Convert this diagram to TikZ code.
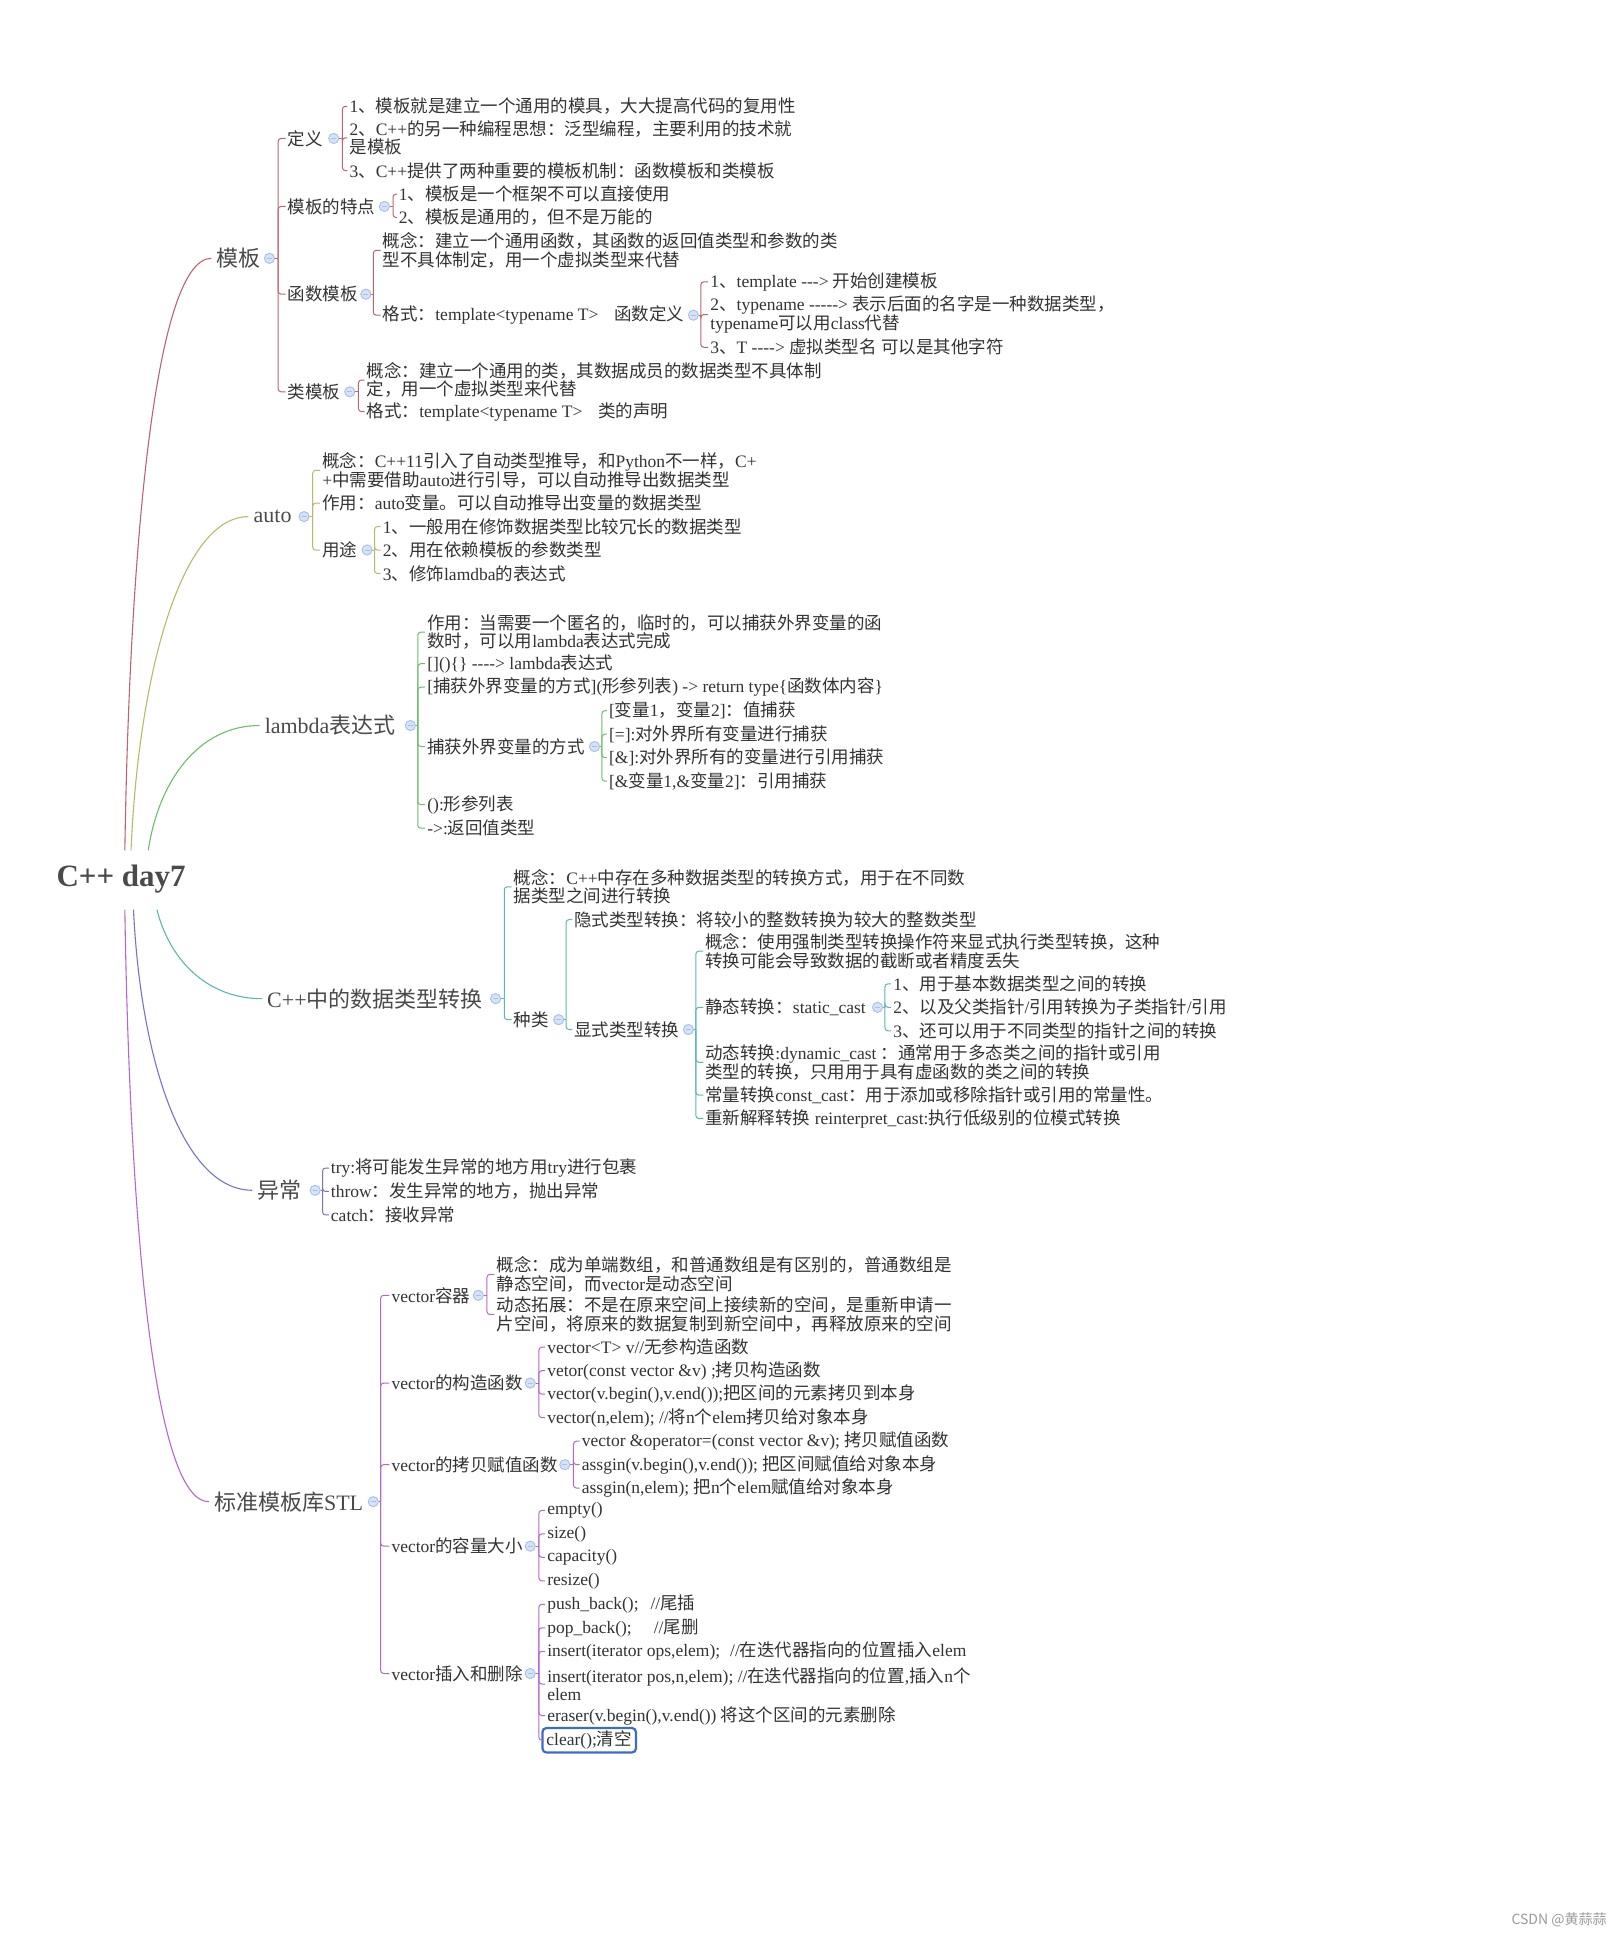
\documentclass[tikz,border=0pt]{standalone}
\usepackage{fontspec}
\setmainfont{Liberation Serif}[Ligatures=TeXOff]
\newfontfamily\cjkfont{Noto Sans CJK SC}
\usepackage{xcolor}
\usepackage{tikz}
\usetikzlibrary{positioning}

\definecolor{mmink}{HTML}{333333}
\definecolor{mmgray}{HTML}{4A4A4A}
\definecolor{mmmark}{HTML}{9A9A9A}
\definecolor{ctpl}{HTML}{BC6570}
\definecolor{cauto}{HTML}{BDB76B}
\definecolor{clam}{HTML}{6DBD6D}
\definecolor{ccast}{HTML}{5BB7B0}
\definecolor{cexc}{HTML}{7474CC}
\definecolor{cstl}{HTML}{B468C8}
\definecolor{mmdotfill}{HTML}{D5E3F7}
\definecolor{mmdotline}{HTML}{A8C1EA}
\definecolor{cblue}{HTML}{3C6CC8}

% CJK characters switch to the CJK family automatically
\XeTeXinterchartokenstate=1
\newXeTeXintercharclass\cjkcls
\count255="3000
\loop\ifnum\count255<"A000 \XeTeXcharclass\count255=\cjkcls \advance\count255 by 1 \repeat
\count255="FF00
\loop\ifnum\count255<"FFF0 \XeTeXcharclass\count255=\cjkcls \advance\count255 by 1 \repeat
\XeTeXinterchartoks 0 \cjkcls = {\cjkfont}
\XeTeXinterchartoks 4095 \cjkcls = {\cjkfont}
\XeTeXinterchartoks \cjkcls 0 = {\rmfamily}
\XeTeXinterchartoks \cjkcls 4095 = {\rmfamily}

\tikzset{
  mmroot/.style  ={inner sep=0pt, font=\fontsize{31}{33}\selectfont\bfseries, text=mmgray},
  mmmain/.style  ={anchor=west, inner xsep=5pt, inner ysep=0pt,
                   font=\fontsize{22}{24}\selectfont, text=mmgray},
  mmtext/.style  ={anchor=west, inner xsep=2pt, inner ysep=0pt, align=left,
                   font=\fontsize{17.5}{18.5}\selectfont, text=mmink},
  mmhandle/.style={circle, minimum size=10pt, inner sep=0pt, fill=mmdotfill,
                   draw=mmdotline, line width=0.8pt,
                   path picture={\draw[mmdotline, line width=1pt]
                     ([xshift=2.5pt]path picture bounding box.west) --
                     ([xshift=-2.5pt]path picture bounding box.east);}},
  mmlink/.style  ={line width=1pt, rounded corners=3pt},
  mmcurve/.style ={line width=1.1pt},
  mmbox/.style   ={draw=cblue, line width=2.2pt, rounded corners=4pt,
                   inner xsep=4pt, inner ysep=3pt},
}

\begin{document}
\begin{tikzpicture}[x=1.2362pt, y=-1.2362pt]
  \useasboundingbox (0,0) rectangle (1308,1568);
  \fill[white] (0,0) rectangle (1308,1568);

  % root and main branches
  \node[mmroot] (root) at (98,711) {C++ day7};
  \coordinate (rt-a) at (101,688);
  \coordinate (rt-b) at (106,688);
  \coordinate (rt-c) at (120,688);
  \coordinate (rb-a) at (101,736);
  \coordinate (rb-b) at (108,736);
  \coordinate (rb-c) at (127,736);

  \node[mmmain] (tpl)  at (171,209)  {模板};
  \node[mmmain] (auto) at (201,418)  {auto};
  \node[mmmain] (lam)  at (210,587)  {lambda表达式};
  \node[mmmain] (cast) at (212,808)  {C++中的数据类型转换};
  \node[mmmain] (exc)  at (204,963)  {异常};
  \node[mmmain] (stl)  at (169,1215) {标准模板库STL};

  \draw[mmcurve,ctpl]  (rt-a) .. controls +(4,-250) and +(-45,0) .. (tpl.west);
  \draw[mmcurve,cauto] (rt-b) .. controls +(6,-140) and +(-55,0) .. (auto.west);
  \draw[mmcurve,clam]  (rt-c) .. controls +(8,-55) and +(-50,0) .. (lam.west);
  \draw[mmcurve,ccast] (rb-c) .. controls +(10,40) and +(-45,0) .. (cast.west);
  \draw[mmcurve,cexc]  (rb-b) .. controls +(6,125) and +(-55,0) .. (exc.west);
  \draw[mmcurve,cstl]  (rb-a) .. controls +(4,250) and +(-45,0) .. (stl.west);

  % ---- 模板
  \node[mmhandle] (tpl-h) at (218,209) {};
  \coordinate (tpl-j) at (225,209);
  \node[mmtext] (def)  at (231,112) {定义};
  \node[mmtext] (feat) at (231,167) {模板的特点};
  \node[mmtext] (fun)  at (231,238) {函数模板};
  \node[mmtext] (cls)  at (231,317) {类模板};
  \draw[mmlink,ctpl] (tpl-h) -- (tpl-j);
  \foreach \c in {def,feat,fun,cls} \draw[mmlink,ctpl] (tpl-j) |- (\c.west);

  \node[mmhandle] (def-h) at (270,112) {};
  \coordinate (def-j) at (277,112);
  \node[mmtext] (def1) at (281,86)    {1、模板就是建立一个通用的模具，大大提高代码的复用性};
  \node[mmtext] (def2) at (281,111.5) {2、C++的另一种编程思想：泛型编程，主要利用的技术就\\是模板};
  \node[mmtext] (def3) at (281,138)   {3、C++提供了两种重要的模板机制：函数模板和类模板};
  \draw[mmlink,ctpl] (def-h) -- (def-j);
  \foreach \c in {def1,def2,def3} \draw[mmlink,ctpl] (def-j) |- (\c.west);

  \node[mmhandle] (feat-h) at (311,167) {};
  \coordinate (feat-j) at (318,167);
  \node[mmtext] (feat1) at (321,157) {1、模板是一个框架不可以直接使用};
  \node[mmtext] (feat2) at (321,176) {2、模板是通用的，但不是万能的};
  \draw[mmlink,ctpl] (feat-h) -- (feat-j);
  \foreach \c in {feat1,feat2} \draw[mmlink,ctpl] (feat-j) |- (\c.west);

  \node[mmhandle] (fun-h) at (296,238) {};
  \coordinate (fun-j) at (302,238);
  \node[mmtext] (fun1) at (308,202.5) {概念：建立一个通用函数，其函数的返回值类型和参数的类\\型不具体制定，用一个虚拟类型来代替};
  \node[mmtext] (fun2) at (308,255)   {格式：template<typename T>\hspace{16pt}函数定义};
  \draw[mmlink,ctpl] (fun-h) -- (fun-j);
  \foreach \c in {fun1,fun2} \draw[mmlink,ctpl] (fun-j) |- (\c.west);

  \node[mmhandle] (fun2-h) at (561,255) {};
  \coordinate (fun2-j) at (567,255);
  \node[mmtext] (fd1) at (573,228)   {1、template ---> 开始创建模板};
  \node[mmtext] (fd2) at (573,254.5) {2、typename -----> 表示后面的名字是一种数据类型，\\typename可以用class代替};
  \node[mmtext] (fd3) at (573,281)   {3、T ----> 虚拟类型名 可以是其他字符};
  \draw[mmlink,ctpl] (fun2-h) -- (fun2-j);
  \foreach \c in {fd1,fd2,fd3} \draw[mmlink,ctpl] (fun2-j) |- (\c.west);

  \node[mmhandle] (cls-h) at (283,317) {};
  \coordinate (cls-j) at (290,317);
  \node[mmtext] (cls1) at (295,307.5) {概念：建立一个通用的类，其数据成员的数据类型不具体制\\定，用一个虚拟类型来代替};
  \node[mmtext] (cls2) at (295,333)   {格式：template<typename T>\hspace{16pt}类的声明};
  \draw[mmlink,ctpl] (cls-h) -- (cls-j);
  \foreach \c in {cls1,cls2} \draw[mmlink,ctpl] (cls-j) |- (\c.west);

  % ---- auto
  \node[mmhandle] (auto-h) at (246,418) {};
  \coordinate (auto-j) at (253,418);
  \node[mmtext] (au1) at (259,380.5) {概念：C++11引入了自动类型推导，和Python不一样，C+\\+中需要借助auto进行引导，可以自动推导出数据类型};
  \node[mmtext] (au2) at (259,407)   {作用：auto变量。可以自动推导出变量的数据类型};
  \node[mmtext] (au3) at (259,445)   {用途};
  \draw[mmlink,cauto] (auto-h) -- (auto-j);
  \foreach \c in {au1,au2,au3} \draw[mmlink,cauto] (auto-j) |- (\c.west);

  \node[mmhandle] (au3-h) at (297,445) {};
  \coordinate (au3-j) at (303,445);
  \node[mmtext] (use1) at (308,426) {1、一般用在修饰数据类型比较冗长的数据类型};
  \node[mmtext] (use2) at (308,445) {2、用在依赖模板的参数类型};
  \node[mmtext] (use3) at (308,464) {3、修饰lamdba的表达式};
  \draw[mmlink,cauto] (au3-h) -- (au3-j);
  \foreach \c in {use1,use2,use3} \draw[mmlink,cauto] (au3-j) |- (\c.west);

  % ---- lambda
  \node[mmhandle] (lam-h) at (332,587) {};
  \coordinate (lam-j) at (338,587);
  \node[mmtext] (lam1) at (344,511.5) {作用：当需要一个匿名的，临时的，可以捕获外界变量的函\\数时，可以用lambda表达式完成};
  \node[mmtext] (lam2) at (344,537)   {[]()\{\} ----> lambda表达式};
  \node[mmtext] (lam3) at (344,556)   {[捕获外界变量的方式](形参列表) -> return type\{函数体内容\}};
  \node[mmtext] (lam4) at (344,604)   {捕获外界变量的方式};
  \node[mmtext] (lam5) at (344,651)   {():形参列表};
  \node[mmtext] (lam6) at (344,670)   {->:返回值类型};
  \draw[mmlink,clam] (lam-h) -- (lam-j);
  \foreach \c in {lam1,lam2,lam3,lam4,lam5,lam6} \draw[mmlink,clam] (lam-j) |- (\c.west);

  \node[mmhandle] (lam4-h) at (481,604) {};
  \coordinate (lam4-j) at (487,604);
  \node[mmtext] (grab1) at (491,575) {[变量1，变量2]：值捕获};
  \node[mmtext] (grab2) at (491,594) {[=]:对外界所有变量进行捕获};
  \node[mmtext] (grab3) at (491,613) {[\&]:对外界所有的变量进行引用捕获};
  \node[mmtext] (grab4) at (491,632) {[\&变量1,\&变量2]：引用捕获};
  \draw[mmlink,clam] (lam4-h) -- (lam4-j);
  \foreach \c in {grab1,grab2,grab3,grab4} \draw[mmlink,clam] (lam4-j) |- (\c.west);

  % ---- 类型转换
  \node[mmhandle] (cast-h) at (401,808) {};
  \coordinate (cast-j) at (408,808);
  \node[mmtext] (cst1) at (414,717.5) {概念：C++中存在多种数据类型的转换方式，用于在不同数\\据类型之间进行转换};
  \node[mmtext] (cst2) at (414,825)   {种类};
  \draw[mmlink,ccast] (cast-h) -- (cast-j);
  \foreach \c in {cst1,cst2} \draw[mmlink,ccast] (cast-j) |- (\c.west);

  \node[mmhandle] (cst2-h) at (452,825) {};
  \coordinate (cst2-j) at (458,825);
  \node[mmtext] (kind1) at (463,744) {隐式类型转换：将较小的整数转换为较大的整数类型};
  \node[mmtext] (kind2) at (463,833) {显式类型转换};
  \draw[mmlink,ccast] (cst2-h) -- (cst2-j);
  \foreach \c in {kind1,kind2} \draw[mmlink,ccast] (cst2-j) |- (\c.west);

  \node[mmhandle] (kind2-h) at (557,833) {};
  \coordinate (kind2-j) at (563,833);
  \node[mmtext] (exp1) at (569,769.5) {概念：使用强制类型转换操作符来显式执行类型转换，这种\\转换可能会导致数据的截断或者精度丢失};
  \node[mmtext] (exp2) at (569,815)   {静态转换：static\_cast};
  \node[mmtext] (exp3) at (569,859.5) {动态转换:dynamic\_cast ：通常用于多态类之间的指针或引用\\类型的转换，只用用于具有虚函数的类之间的转换};
  \node[mmtext] (exp4) at (569,886)   {常量转换const\_cast：用于添加或移除指针或引用的常量性。};
  \node[mmtext] (exp5) at (569,905)   {重新解释转换 reinterpret\_cast:执行低级别的位模式转换};
  \draw[mmlink,ccast] (kind2-h) -- (kind2-j);
  \foreach \c in {exp1,exp2,exp3,exp4,exp5} \draw[mmlink,ccast] (kind2-j) |- (\c.west);

  \node[mmhandle] (exp2-h) at (710,815) {};
  \coordinate (exp2-j) at (716,815);
  \node[mmtext] (sc1) at (721,796) {1、用于基本数据类型之间的转换};
  \node[mmtext] (sc2) at (721,815) {2、以及父类指针/引用转换为子类指针/引用};
  \node[mmtext] (sc3) at (721,834) {3、还可以用于不同类型的指针之间的转换};
  \draw[mmlink,ccast] (exp2-h) -- (exp2-j);
  \foreach \c in {sc1,sc2,sc3} \draw[mmlink,ccast] (exp2-j) |- (\c.west);

  % ---- 异常
  \node[mmhandle] (exc-h) at (255,963) {};
  \coordinate (exc-j) at (261,963);
  \node[mmtext] (ex1) at (266,945) {try:将可能发生异常的地方用try进行包裹};
  \node[mmtext] (ex2) at (266,964) {throw：发生异常的地方，抛出异常};
  \node[mmtext] (ex3) at (266,983) {catch：接收异常};
  \draw[mmlink,cexc] (exc-h) -- (exc-j);
  \foreach \c in {ex1,ex2,ex3} \draw[mmlink,cexc] (exc-j) |- (\c.west);

  % ---- STL
  \node[mmhandle] (stl-h) at (302,1215) {};
  \coordinate (stl-j) at (308,1215);
  \node[mmtext] (vc)   at (315,1048) {vector容器};
  \node[mmtext] (ctor) at (315,1119) {vector的构造函数};
  \node[mmtext] (asg)  at (315,1185) {vector的拷贝赋值函数};
  \node[mmtext] (vsz)  at (315,1251) {vector的容量大小};
  \node[mmtext] (ins)  at (315,1354) {vector插入和删除};
  \draw[mmlink,cstl] (stl-h) -- (stl-j);
  \foreach \c in {vc,ctor,asg,vsz,ins} \draw[mmlink,cstl] (stl-j) |- (\c.west);

  \node[mmhandle] (vc-h) at (387,1048) {};
  \coordinate (vc-j) at (394,1048);
  \node[mmtext] (vc1) at (400,1031)   {概念：成为单端数组，和普通数组是有区别的，普通数组是\\静态空间，而vector是动态空间};
  \node[mmtext] (vc2) at (400,1063.5) {动态拓展：不是在原来空间上接续新的空间，是重新申请一\\片空间，将原来的数据复制到新空间中，再释放原来的空间};
  \draw[mmlink,cstl] (vc-h) -- (vc-j);
  \foreach \c in {vc1,vc2} \draw[mmlink,cstl] (vc-j) |- (\c.west);

  \node[mmhandle] (ctor-h) at (429,1119) {};
  \coordinate (ctor-j) at (436,1119);
  \node[mmtext] (ct1) at (441,1090) {vector<T> v//无参构造函数};
  \node[mmtext] (ct2) at (441,1109) {vetor(const vector \&v) ;拷贝构造函数};
  \node[mmtext] (ct3) at (441,1128) {vector(v.begin(),v.end());把区间的元素拷贝到本身};
  \node[mmtext] (ct4) at (441,1147) {vector(n,elem); //将n个elem拷贝给对象本身};
  \draw[mmlink,cstl] (ctor-h) -- (ctor-j);
  \foreach \c in {ct1,ct2,ct3,ct4} \draw[mmlink,cstl] (ctor-j) |- (\c.west);

  \node[mmhandle] (asg-h) at (457,1185) {};
  \coordinate (asg-j) at (464,1185);
  \node[mmtext] (as1) at (469,1166) {vector \&operator=(const vector \&v); 拷贝赋值函数};
  \node[mmtext] (as2) at (469,1185) {assgin(v.begin(),v.end()); 把区间赋值给对象本身};
  \node[mmtext] (as3) at (469,1204) {assgin(n,elem); 把n个elem赋值给对象本身};
  \draw[mmlink,cstl] (asg-h) -- (asg-j);
  \foreach \c in {as1,as2,as3} \draw[mmlink,cstl] (asg-j) |- (\c.west);

  \node[mmhandle] (vsz-h) at (429,1251) {};
  \coordinate (vsz-j) at (436,1251);
  \node[mmtext] (sz1) at (441,1222) {empty()};
  \node[mmtext] (sz2) at (441,1241) {size()};
  \node[mmtext] (sz3) at (441,1260) {capacity()};
  \node[mmtext] (sz4) at (441,1279) {resize()};
  \draw[mmlink,cstl] (vsz-h) -- (vsz-j);
  \foreach \c in {sz1,sz2,sz3,sz4} \draw[mmlink,cstl] (vsz-j) |- (\c.west);

  \node[mmhandle] (ins-h) at (429,1354) {};
  \coordinate (ins-j) at (436,1354);
  \node[mmtext] (in1) at (441,1298)   {push\_back();\hspace{12pt}//尾插};
  \node[mmtext] (in2) at (441,1317)   {pop\_back();\hspace{22pt}//尾删};
  \node[mmtext] (in3) at (441,1336)   {insert(iterator ops,elem);\hspace{10pt}//在迭代器指向的位置插入elem};
  \node[mmtext] (in4) at (441,1362.5) {insert(iterator pos,n,elem); //在迭代器指向的位置,插入n个\\elem};
  \node[mmtext] (in5) at (441,1388)   {eraser(v.begin(),v.end()) 将这个区间的元素删除};
  \node[mmtext, mmbox] (in6) at (438,1408) {clear();清空};
  \draw[mmlink,cstl] (ins-h) -- (ins-j);
  \foreach \c in {in1,in2,in3,in4,in5,in6} \draw[mmlink,cstl] (ins-j) |- (\c.west);

  % handles on top
  \foreach \h in {tpl-h,def-h,feat-h,fun-h,fun2-h,cls-h,auto-h,au3-h,lam-h,lam4-h,
                  cast-h,cst2-h,kind2-h,exp2-h,exc-h,stl-h,vc-h,ctor-h,asg-h,vsz-h,ins-h}
    \node[mmhandle] at (\h) {};

  \node[anchor=east, inner sep=0pt, font=\cjkfont\fontsize{14}{16}\selectfont, text=mmmark]
       (mark) at (1300,1553) {CSDN @黄蒜蒜};
\end{tikzpicture}
\end{document}
